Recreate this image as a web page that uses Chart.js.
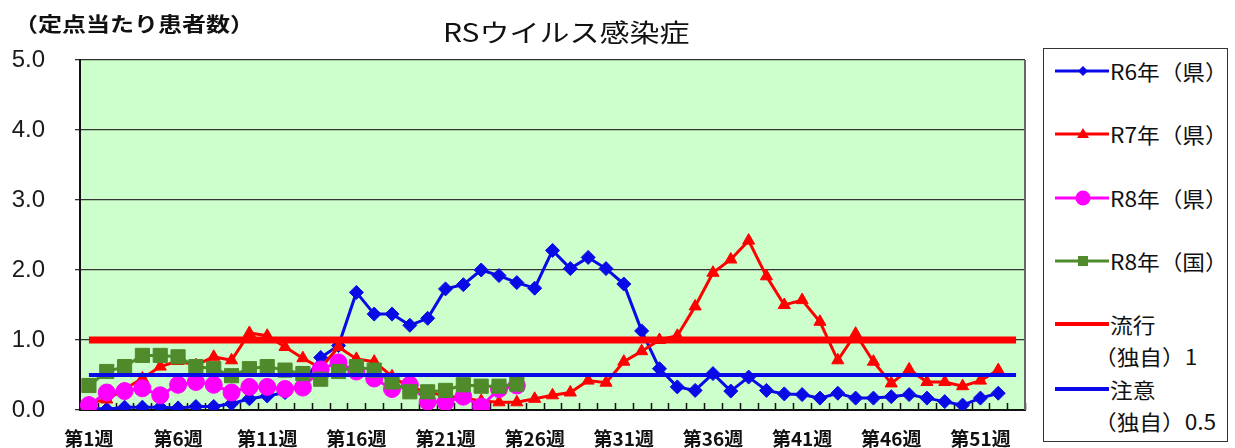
<!DOCTYPE html>
<html lang="ja">
<head>
<meta charset="utf-8">
<script src="https://cdn.jsdelivr.net/npm/chart.js@4.4.1/dist/chart.umd.min.js"></script>
<style>
  html, body { margin: 0; padding: 0; background: #fff; }
  #wrap { position: relative; width: 1235px; height: 448px; overflow: hidden; font-family: "Noto Sans CJK JP", sans-serif; color: #111; }
  #chart { position: absolute; left: 0; top: 0; }
  .txt { position: absolute; white-space: nowrap; line-height: 1; transform-origin: left center; }
  #title { left: 443px; top: 19px; font-size: 25px; transform: scaleX(1.2); }
  #ycap { left: 14px; top: 14px; font-size: 20px; font-weight: bold; transform: scaleX(1.2); }
  #legend { position: absolute; left: 1043px; top: 48px; width: 185px; height: 394px; border: 1px solid #333; box-sizing: border-box; background: #fff; }
  .row { position: absolute; left: 0; width: 100%; height: 0; }
  .row svg { position: absolute; left: 11px; top: -10px; }
  .row .lab { position: absolute; left: 66px; top: -11px; font-size: 21px; line-height: 22px; white-space: nowrap; transform: scaleX(1.08); transform-origin: left center; }
  .row .lab2 { top: 21px; left: 50px; }
</style>
</head>
<body>
<div id="wrap">
  <canvas id="chart" width="1235" height="448"></canvas>
  <div id="title" class="txt">RSウイルス感染症</div>
  <div id="ycap" class="txt">（定点当たり患者数）</div>
  <div id="legend"></div>
</div>
<script>
// 週ラベル（第1週〜第53週）
const weeks = Array.from({ length: 53 }, (_, i) => '第' + (i + 1) + '週');
const yTicks = [0, 1, 2, 3, 4, 5];

// R6年（県）
const r6Pref = [0.03, 0.01, 0.04, 0.04, 0.04, 0.03, 0.05, 0.05, 0.09, 0.16,
  0.20, 0.25, 0.38, 0.75, 0.92, 1.68, 1.37, 1.37, 1.21, 1.31,
  1.73, 1.79, 2.00, 1.92, 1.82, 1.74, 2.28, 2.02, 2.18, 2.02,
  1.80, 1.13, 0.59, 0.33, 0.28, 0.52, 0.27, 0.47, 0.28, 0.23,
  0.22, 0.17, 0.24, 0.17, 0.17, 0.19, 0.22, 0.17, 0.12, 0.07,
  0.17, 0.24];
// R7年（県）
const r7Pref = [0.10, 0.15, 0.30, 0.45, 0.62, 0.70, 0.64, 0.76, 0.71, 1.10,
  1.06, 0.90, 0.74, 0.60, 0.90, 0.73, 0.69, 0.48, 0.32, 0.26,
  0.20, 0.17, 0.13, 0.11, 0.11, 0.16, 0.21, 0.25, 0.42, 0.39,
  0.69, 0.84, 1.00, 1.06, 1.48, 1.96, 2.15, 2.42, 1.91, 1.50,
  1.57, 1.26, 0.71, 1.09, 0.69, 0.38, 0.58, 0.40, 0.40, 0.34,
  0.42, 0.57];
// R8年（県）
const r8Pref = [0.07, 0.25, 0.27, 0.31, 0.21, 0.36, 0.40, 0.36, 0.25, 0.33,
  0.33, 0.30, 0.32, 0.58, 0.68, 0.55, 0.45, 0.30, 0.36, 0.12,
  0.11, 0.19, 0.05, 0.30, 0.35];
// R8年（国）
const r8Nation = [0.35, 0.55, 0.62, 0.78, 0.78, 0.76, 0.62, 0.59, 0.49, 0.59,
  0.62, 0.57, 0.52, 0.44, 0.55, 0.62, 0.57, 0.40, 0.26, 0.26,
  0.28, 0.36, 0.34, 0.34, 0.37];
// 基準線
const epidemicLevel = 1;
const warningLevel = 0.5;

const C = {
  blue: '#0a0ae6', red: '#ff0000', magenta: '#ff00ff', green: '#4f8a2b',
  plotBg: '#ccffcc', grid: '#333333', axis: '#111111',
};

const series = [
  { label: 'R6年（県）', data: r6Pref, color: C.blue, style: 'rectRot', radius: 7, width: 3 },
  { label: 'R7年（県）', data: r7Pref, color: C.red, style: 'triangle', radius: 7, width: 3 },
  { label: 'R8年（県）', data: r8Pref, color: C.magenta, style: 'circle', radius: 8.5, width: 3 },
  { label: 'R8年（国）', data: r8Nation, color: C.green, style: 'rect', radius: 10, width: 3 },
  { label: '流行\n（独自）1', data: weeks.map(() => epidemicLevel), color: C.red, style: false, radius: 0, width: 7 },
  { label: '注意\n（独自）0.5', data: weeks.map(() => warningLevel), color: C.blue, style: false, radius: 0, width: 4 },
];

const plotArea = {
  id: 'plotArea',
  beforeDraw(chart) {
    const { ctx, chartArea: a } = chart;
    ctx.save();
    ctx.fillStyle = C.plotBg;
    ctx.fillRect(a.left, a.top, a.right - a.left, a.bottom - a.top);
    ctx.restore();
  },
  beforeDatasetsDraw(chart) {
    // 内向きの目盛り（各週の境界）
    const { ctx, chartArea: a } = chart;
    const x = chart.scales.x;
    const step = x.getPixelForValue(1) - x.getPixelForValue(0);
    ctx.save();
    ctx.strokeStyle = C.axis;
    ctx.lineWidth = 1.5;
    ctx.beginPath();
    for (let i = 0; i <= weeks.length; i++) {
      const px = Math.round(x.getPixelForValue(i) - step / 2) + 0.5;
      ctx.moveTo(px, a.bottom);
      ctx.lineTo(px, a.bottom - 7);
    }
    ctx.stroke();
    ctx.strokeStyle = '#666';
    ctx.lineWidth = 2;
    ctx.beginPath();
    ctx.moveTo(a.right, a.top);
    ctx.lineTo(a.right, a.bottom);
    ctx.stroke();
    ctx.restore();
  },
};

new Chart(document.getElementById('chart'), {
  type: 'line',
  data: {
    labels: weeks,
    datasets: series.map((s, i) => ({
      label: s.label,
      data: s.data,
      borderColor: s.color,
      backgroundColor: s.color,
      pointBackgroundColor: s.color,
      pointBorderColor: s.color,
      borderWidth: s.width,
      pointStyle: s.style,
      pointRadius: s.radius,
      pointBorderWidth: 1,
      tension: 0,
      order: series.length - i,
    })),
  },
  options: {
    responsive: false,
    animation: false,
    layout: { padding: { top: 60, right: 210, left: 0, bottom: 0 } },
    plugins: { legend: { display: false }, tooltip: { enabled: false }, title: { display: false } },
    scales: {
      x: {
        offset: true,
        grid: { display: false, drawTicks: false },
        border: { display: true, color: C.axis, width: 2 },
        ticks: {
          autoSkip: false, maxRotation: 0, padding: 17, color: '#111',
          font: { family: 'Noto Sans CJK JP', size: 19, weight: 'bold' },
          callback: (v, i) => (i % 5 === 0 ? weeks[i] : ''),
        },
        afterFit: s => { s.height = 38; s.paddingLeft = 0; s.paddingRight = 0; },
      },
      y: {
        min: yTicks[0], max: yTicks[yTicks.length - 1],
        afterBuildTicks: s => { s.ticks = yTicks.map(v => ({ value: v })); },
        grid: { color: C.grid, lineWidth: 1.3, tickLength: 5 },
        border: { display: true, color: C.axis, width: 2 },
        ticks: {
          padding: 30, color: '#1a1a1a',
          font: { family: 'Liberation Sans', size: 24 },
          callback: v => Number(v).toFixed(1),
        },
        afterFit: s => { s.width = 80; s.paddingTop = 0; s.paddingBottom = 0; },
      },
    },
  },
  plugins: [plotArea],
});

// 凡例（HTML）
const legendEl = document.getElementById('legend');
const rowTops = [22, 85, 149, 212, 275, 340];
function markerSvg(s) {
  const cx = 28, cy = 10;
  let m = '';
  if (s.style === 'rectRot') m = `<polygon points="${cx},${cy - 5} ${cx + 5},${cy} ${cx},${cy + 5} ${cx - 5},${cy}" fill="${s.color}"/>`;
  if (s.style === 'triangle') m = `<polygon points="${cx},${cy - 6} ${cx + 6},${cy + 4} ${cx - 6},${cy + 4}" fill="${s.color}"/>`;
  if (s.style === 'circle') m = `<circle cx="${cx}" cy="${cy}" r="7.5" fill="${s.color}"/>`;
  if (s.style === 'rect') m = `<rect x="${cx - 5}" y="${cy - 5}" width="10" height="10" fill="${s.color}"/>`;
  const w = s.style ? 3 : 4;
  return `<svg width="56" height="20"><line x1="0" y1="${cy}" x2="54" y2="${cy}" stroke="${s.color}" stroke-width="${w}"/>${m}</svg>`;
}
series.forEach((s, i) => {
  const row = document.createElement('div');
  row.className = 'row';
  row.style.top = rowTops[i] + 'px';
  const lines = s.label.split('\n');
  row.innerHTML = markerSvg(s) + `<div class="lab">${lines[0]}</div>` +
    (lines[1] ? `<div class="lab lab2">${lines[1]}</div>` : '');
  legendEl.appendChild(row);
});
</script>
</body>
</html>
